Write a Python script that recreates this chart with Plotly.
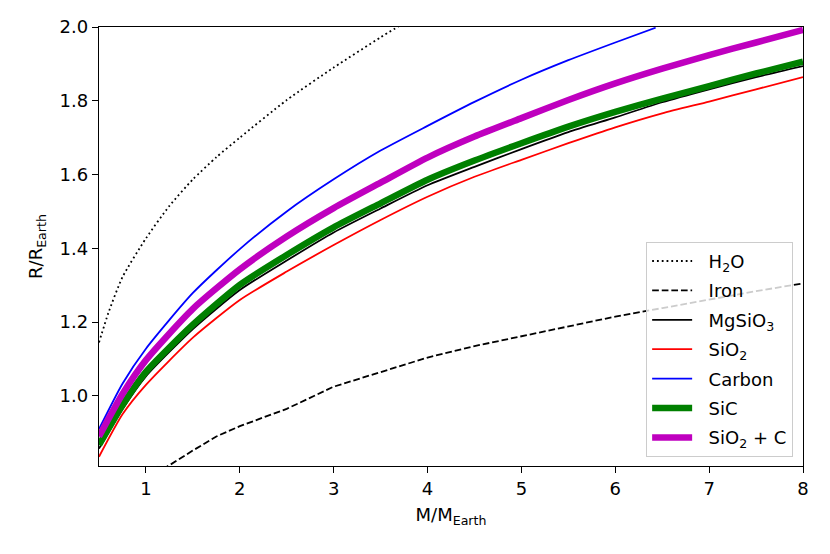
import plotly.graph_objects as go

# masses (M/M_Earth) for the rocky / carbon models
mass = [0.5, 0.75, 1, 1.5, 2, 2.5, 3, 3.5, 4, 4.5, 5, 5.5, 6, 6.5, 7, 7.5, 8]

r_mgsio3 = [0.857, 0.964, 1.053, 1.181, 1.287, 1.367, 1.443, 1.508, 1.571, 1.621,
            1.669, 1.715, 1.755, 1.796, 1.831, 1.864, 1.894]
r_sio2 = [0.835, 0.950, 1.030, 1.158, 1.260, 1.337, 1.409, 1.477, 1.540, 1.594,
          1.640, 1.685, 1.728, 1.766, 1.798, 1.831, 1.864]
r_sic = [0.867, 0.975, 1.065, 1.193, 1.301, 1.382, 1.457, 1.522, 1.586, 1.638,
         1.685, 1.730, 1.770, 1.806, 1.840, 1.874, 1.906]
r_sio2_c = [0.890, 1.005, 1.097, 1.236, 1.343, 1.432, 1.509, 1.578, 1.646, 1.703,
            1.753, 1.802, 1.847, 1.887, 1.924, 1.958, 1.992]

mass_carbon = [0.5, 0.75, 1, 1.5, 2, 2.5, 3, 3.5, 4, 4.5, 5, 5.5, 6, 6.43]
r_carbon = [0.910, 1.033, 1.128, 1.279, 1.398, 1.500, 1.587, 1.665, 1.732, 1.797,
            1.857, 1.910, 1.958, 1.998]

mass_h2o = [0.5, 0.6, 0.75, 1, 1.25, 1.5, 1.75, 2, 2.5, 3, 3.5, 3.7]
r_h2o = [1.145, 1.225, 1.322, 1.427, 1.515, 1.587, 1.647, 1.700, 1.802, 1.890,
         1.972, 2.003]

mass_iron = [1.0, 1.25, 1.5, 1.75, 2, 2.5, 3, 3.5, 4, 4.5, 5, 5.5, 6, 6.5, 7, 7.5, 8]
r_iron = [0.775, 0.812, 0.852, 0.890, 0.918, 0.965, 1.025, 1.065, 1.104, 1.135,
          1.162, 1.190, 1.215, 1.238, 1.262, 1.284, 1.305]

fig = go.Figure()

thin = 1.8
thick = 6.5
smooth = dict(shape="spline", smoothing=0.6)
pad = "\u00a0\u00a0"  # a bit more room between legend line and label

fig.add_trace(go.Scatter(x=mass_h2o, y=r_h2o, mode="lines", name=pad + "H<sub>2</sub>O",
                         legendgroup="a",
                         line=dict(color="black", width=thin, dash="1.8px,3px", **smooth)))
fig.add_trace(go.Scatter(x=mass_iron, y=r_iron, mode="lines", name=pad + "Iron",
                         legendgroup="b",
                         line=dict(color="black", width=thin, dash="6.7px,2.9px")))
fig.add_trace(go.Scatter(x=mass, y=r_mgsio3, mode="lines", name=pad + "MgSiO<sub>3</sub>",
                         legendgroup="c",
                         line=dict(color="black", width=thin, **smooth)))
fig.add_trace(go.Scatter(x=mass, y=r_sio2, mode="lines", name=pad + "SiO<sub>2</sub>",
                         legendgroup="d",
                         line=dict(color="#ff0000", width=thin, **smooth)))
fig.add_trace(go.Scatter(x=mass_carbon, y=r_carbon, mode="lines", name=pad + "Carbon",
                         legendgroup="e",
                         line=dict(color="#0000ff", width=thin, **smooth)))
fig.add_trace(go.Scatter(x=mass, y=r_sic, mode="lines", name=pad + "SiC",
                         legendgroup="f",
                         line=dict(color="#008000", width=thick, **smooth)))
fig.add_trace(go.Scatter(x=mass, y=r_sio2_c, mode="lines", name=pad + "SiO<sub>2</sub> + C",
                         legendgroup="g",
                         line=dict(color="#bf00bf", width=thick, **smooth)))

axis_style = dict(showline=True, linecolor="black", linewidth=1.4, mirror=True,
                  ticks="outside", ticklen=6, tickwidth=1.4, tickcolor="black",
                  showgrid=False, zeroline=False, automargin=False,
                  tickfont=dict(size=18, color="black"))

# the page body adds 8px, margins are shifted to compensate
fig.update_layout(
    width=830, height=554,
    margin=dict(l=91, r=35, t=19, b=96),
    paper_bgcolor="white", plot_bgcolor="white",
    font=dict(family="DejaVu Sans", size=18, color="black"),
    xaxis=dict(range=[0.5, 8], tickvals=[1, 2, 3, 4, 5, 6, 7, 8],
               title=dict(text="M/M<sub>Earth</sub>", font=dict(size=18), standoff=10),
               **axis_style),
    yaxis=dict(range=[0.81, 2.0], tickvals=[1.0, 1.2, 1.4, 1.6, 1.8, 2.0],
               tickformat=".1f",
               title=dict(text="R/R<sub>Earth</sub>", font=dict(size=18), standoff=12),
               **axis_style),
    legend=dict(x=0.986, y=0.021, xanchor="right", yanchor="bottom",
                bgcolor="rgba(255,255,255,0.8)", bordercolor="#cccccc", borderwidth=1,
                font=dict(size=18), itemwidth=40, tracegroupgap=3),
    showlegend=True,
)

fig.write_html("out.html")
